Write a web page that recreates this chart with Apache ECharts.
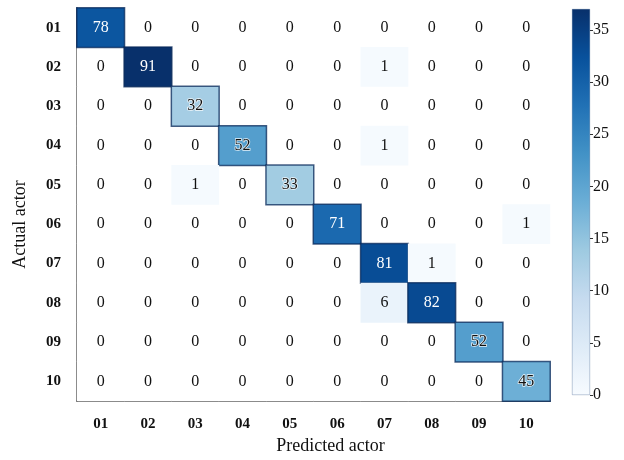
<!DOCTYPE html>
<html>
<head>
<meta charset="utf-8">
<script src="https://cdn.jsdelivr.net/npm/echarts@6/dist/echarts.min.js"></script>
<style>html,body{margin:0;padding:0;background:#fff}#c{width:624px;height:460px}</style>
</head>
<body>
<div id="c"></div>
<script>
var predictedActors = ['01','02','03','04','05','06','07','08','09','10'];
var actualActors = ['01','02','03','04','05','06','07','08','09','10'];
var row01 = [78,0,0,0,0,0,0,0,0,0];
var row02 = [0,91,0,0,0,0,1,0,0,0];
var row03 = [0,0,32,0,0,0,0,0,0,0];
var row04 = [0,0,0,52,0,0,1,0,0,0];
var row05 = [0,0,1,0,33,0,0,0,0,0];
var row06 = [0,0,0,0,0,71,0,0,0,1];
var row07 = [0,0,0,0,0,0,81,1,0,0];
var row08 = [0,0,0,0,0,0,6,82,0,0];
var row09 = [0,0,0,0,0,0,0,0,52,0];
var row10 = [0,0,0,0,0,0,0,0,0,45];
var rows = [row01,row02,row03,row04,row05,row06,row07,row08,row09,row10];
var colorbarMax = 37;
var colorbarTicks = 5;
var blues = ['#f7fbff','#deebf7','#c6dbef','#9ecae1','#6baed6','#4292c6','#2171b5','#08519c','#08306b'];

var serif = "'Liberation Serif','Times New Roman',serif";
var dataNonZero = [];
var dataZero = [];
rows.forEach(function(r, yi){
  r.forEach(function(v, xi){
    var item = {value:[xi, yi, v]};
    if (v === 0) { dataZero.push(item); return; }
    if (v >= 30) {
      item.itemStyle = {borderColor:'rgba(8,40,90,0.75)', borderWidth:1.5};
    }
    item.label = {
      color: v >= 70 ? '#ffffff' : '#111111',
      textBorderColor: 'rgba(255,255,255,0.85)',
      textBorderWidth: (v >= 30 && v < 70) ? 1.5 : 0
    };
    dataNonZero.push(item);
  });
});

var cellLabel = {show:true, fontFamily:serif, fontSize:16, color:'#111',
  formatter:function(p){return p.value[2];}};

var chart = echarts.init(document.getElementById('c'), null, {renderer:'canvas'});
chart.setOption({
  animation:false,
  backgroundColor:'#ffffff',
  grid:[
    {left:77, top:8, width:473, height:394},
    {left:572, top:9, width:18, height:386}
  ],
  xAxis:[
    {type:'category', data:predictedActors, gridIndex:0, position:'bottom',
     axisLine:{show:true, lineStyle:{color:'#333', width:1.5}},
     axisTick:{show:false}, splitLine:{show:false},
     axisLabel:{fontFamily:serif, fontWeight:'bold', fontSize:15, color:'#111', margin:16},
     name:'Predicted actor', nameLocation:'middle', nameGap:36,
     nameTextStyle:{fontFamily:serif, fontSize:18, color:'#111', padding:[0,0,0,34]}},
    {type:'category', data:['c'], gridIndex:1, show:false}
  ],
  yAxis:[
    {type:'category', data:actualActors, gridIndex:0, inverse:true,
     axisLine:{show:true, lineStyle:{color:'#333', width:1.5}},
     axisTick:{show:false}, splitLine:{show:false},
     axisLabel:{fontFamily:serif, fontWeight:'bold', fontSize:15, color:'#111', margin:16},
     name:'Actual actor', nameLocation:'middle', nameGap:48,
     nameTextStyle:{fontFamily:serif, fontSize:18, color:'#111', padding:[0,40,0,0]}},
    {type:'value', gridIndex:1, min:0, max:colorbarMax, interval:colorbarTicks, position:'right',
     axisLine:{show:false}, splitLine:{show:false},
     axisTick:{show:true, length:3, lineStyle:{color:'#333'}},
     axisLabel:{fontFamily:serif, fontSize:16, color:'#111', margin:3,
       showMaxLabel:false}}
  ],
  visualMap:{
    show:false, type:'continuous', min:0, max:91, dimension:2, seriesIndex:0,
    inRange:{color:blues}
  },
  series:[
    {type:'heatmap', xAxisIndex:0, yAxisIndex:0, data:dataNonZero,
     label:cellLabel, emphasis:{disabled:true}, z:3},
    {type:'heatmap', xAxisIndex:0, yAxisIndex:0, data:dataZero,
     itemStyle:{color:'#ffffff'},
     label:cellLabel, emphasis:{disabled:true}, z:2},
    {type:'bar', xAxisIndex:1, yAxisIndex:1, data:[colorbarMax], barWidth:'100%',
     itemStyle:{color:{type:'linear', x:0, y:1, x2:0, y2:0, colorStops:
        blues.map(function(c,i){return {offset:i/(blues.length-1), color:c};})},
       borderColor:'rgba(8,48,107,0.5)', borderWidth:0.5},
     silent:true}
  ]
});
</script>
</body>
</html>
